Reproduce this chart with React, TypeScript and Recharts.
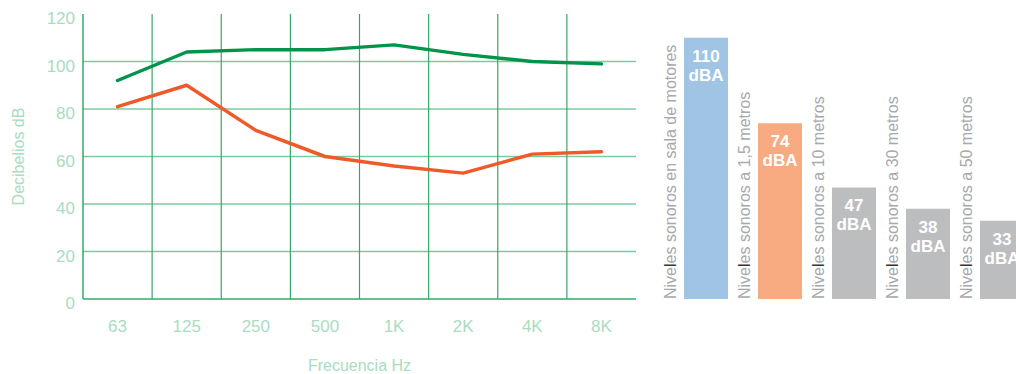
import React from "react";
import {
  Bar,
  BarChart,
  Cell,
  LabelList,
  Line,
  LineChart,
  ReferenceLine,
  XAxis,
  YAxis,
} from "recharts";

// octave bands and the two measured curves (dB)
const freqLabels = ["63", "125", "250", "500", "1K", "2K", "4K", "8K"];
const upperLevels = [92, 104, 105, 105, 107, 103, 100, 99];
const lowerLevels = [81, 90, 71, 60, 56, 53, 61, 62];
const yTicks = [0, 20, 40, 60, 80, 100, 120];
const gridRows = [20, 40, 60, 80, 100];

// overall levels per measuring point (dBA)
const sourceNames = [
  "Niveles sonoros en sala de motores",
  "Niveles sonoros a 1,5 metros",
  "Niveles sonoros a 10 metros",
  "Niveles sonoros a 30 metros",
  "Niveles sonoros a 50 metros",
];
const sourceLevels = [110, 74, 47, 38, 33];
const sourceColors = ["#9fc4e4", "#f8aa80", "#bcbdbf", "#bcbdbf", "#bcbdbf"];

const MINT = "#a9dcc1";
const GRID_DARK = "#36a866";
const GRID_LIGHT = "#7ccba0";

const lineData = freqLabels.map((freq, i) => ({
  pos: i + 0.5,
  freq,
  upper: upperLevels[i],
  lower: lowerLevels[i],
}));
const bandEdges = freqLabels.slice(1).map((_, i) => i + 1);

const barData = sourceNames.map((name, i) => ({ name, level: sourceLevels[i] }));

function ValueLabel(props: any) {
  const { x, y, width, value } = props;
  const cx = x + width / 2;
  return (
    <text
      textAnchor="middle"
      fill="#ffffff"
      fontSize={17}
      fontWeight="bold"
    >
      <tspan x={cx} y={y + 24}>{value}</tspan>
      <tspan x={cx} y={y + 43}>dBA</tspan>
    </text>
  );
}

function NameLabel(props: any) {
  const { x, y, height, value } = props;
  const tx = x - 8;
  const ty = y + height;
  const name = String(value);
  return (
    <text
      x={tx}
      y={ty}
      transform={`rotate(-90 ${tx} ${ty})`}
      fontSize={16}
      fill="#a7a9ac"
    >
      {name.slice(0, 4)}
      <tspan fill="#333333">{name.slice(4, 5)}</tspan>
      {name.slice(5)}
    </text>
  );
}

export default function App() {
  return (
    <div
      style={{
        position: "absolute",
        left: 0,
        top: 0,
        width: 1016,
        height: 374,
        overflow: "hidden",
        background: "#ffffff",
        fontFamily: "'Liberation Sans', Arial, sans-serif",
      }}
    >
      <div style={{ position: "absolute", left: 0, top: 0 }}>
        <LineChart
          width={650}
          height={374}
          data={lineData}
          margin={{ top: 14, right: 14, left: 0, bottom: 0 }}
        >
          <XAxis
            dataKey="pos"
            type="number"
            domain={[0, 8]}
            ticks={lineData.map((d) => d.pos)}
            tickFormatter={(v: number) => freqLabels[Math.floor(v)]}
            height={75}
            tickLine={false}
            tickSize={0}
            tickMargin={21}
            axisLine={{ stroke: GRID_DARK, strokeWidth: 1.5 }}
            tick={{ fill: MINT, fontSize: 17 }}
            label={{
              value: "Frecuencia Hz",
              position: "insideBottom",
              offset: 3,
              fill: MINT,
              fontSize: 16,
            }}
          />
          <YAxis
            domain={[0, 120]}
            ticks={yTicks}
            width={83}
            tickLine={false}
            tickSize={0}
            tickMargin={8}
            axisLine={{ stroke: GRID_DARK, strokeWidth: 1.5 }}
            tick={{ fill: MINT, fontSize: 17, dy: 4 }}
            label={{
              value: "Decibelios dB",
              angle: -90,
              position: "insideLeft",
              offset: 18,
              fill: MINT,
              fontSize: 16,
              style: { textAnchor: "middle" },
            }}
          />
          {gridRows.map((v) => (
            <ReferenceLine key={`r${v}`} y={v} stroke={GRID_LIGHT} strokeWidth={1.5} />
          ))}
          {bandEdges.map((v) => (
            <ReferenceLine key={`c${v}`} x={v} stroke={GRID_DARK} strokeWidth={1.2} />
          ))}
          <Line
            dataKey="upper"
            stroke="#00944a"
            strokeWidth={3.5}
            strokeLinecap="round"
            strokeLinejoin="round"
            dot={false}
            isAnimationActive={false}
          />
          <Line
            dataKey="lower"
            stroke="#f05a28"
            strokeWidth={3.5}
            strokeLinecap="round"
            strokeLinejoin="round"
            dot={false}
            isAnimationActive={false}
          />
        </LineChart>
      </div>
      <div style={{ position: "absolute", left: 640, top: 0 }}>
        <BarChart
          width={400}
          height={374}
          data={barData}
          margin={{ top: 14, right: 1, left: 29, bottom: 75 }}
        >
          <XAxis dataKey="name" hide />
          <YAxis domain={[0, 120]} hide />
          <Bar dataKey="level" barSize={44} isAnimationActive={false}>
            {barData.map((d, i) => (
              <Cell key={d.name} fill={sourceColors[i]} />
            ))}
            <LabelList dataKey="level" content={ValueLabel} />
            <LabelList dataKey="name" content={NameLabel} />
          </Bar>
        </BarChart>
      </div>
    </div>
  );
}
